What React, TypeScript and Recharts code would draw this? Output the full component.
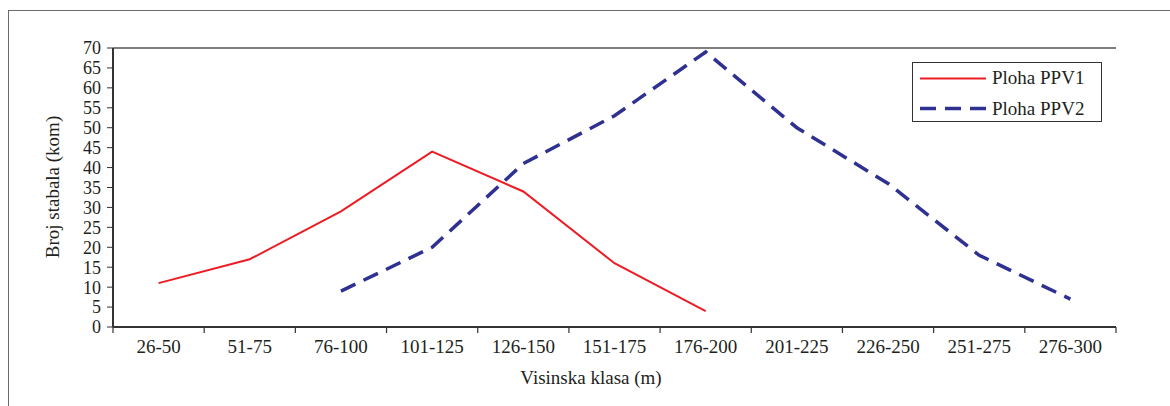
import { LineChart, Line, XAxis, YAxis, ReferenceLine, Legend } from 'recharts';

// height classes (m)
const categories = ['26-50', '51-75', '76-100', '101-125', '126-150', '151-175', '176-200', '201-225', '226-250', '251-275', '276-300'];
// number of trees per class
const ppv1 = [11, 17, 29, 44, 34, 16, 4, null, null, null, null];
const ppv2 = [null, null, 9, 20, 41, 53, 69, 50, 36, 18, 7];
const yTicks = [0, 5, 10, 15, 20, 25, 30, 35, 40, 45, 50, 55, 60, 65, 70];

const seriesNames = { ppv1: 'Ploha PPV1', ppv2: 'Ploha PPV2' };

const data = categories.map((c, i) => ({ x: i + 0.5, name: c, ppv1: ppv1[i], ppv2: ppv2[i] }));

// boundaries get a tick mark, centres get the class label
const xTicks: number[] = [];
for (let i = 0; i <= categories.length; i++) {
  xTicks.push(i);
  if (i < categories.length) xTicks.push(i + 0.5);
}

const FONT = '"Liberation Serif", "Times New Roman", serif';
const TEXT = '#231f20';
const RED = '#ed1c24';
const BLUE = '#2e3192';

const XTick = (props: any) => {
  const { x, y, payload } = props;
  const v = payload.value;
  if (Number.isInteger(v)) {
    return <line x1={x} x2={x} y1={y} y2={y + 6} stroke="#333" strokeWidth={1.2} />;
  }
  return (
    <text x={x} y={y + 26} textAnchor="middle" fontFamily={FONT} fontSize={19} fill={TEXT}>
      {categories[Math.floor(v)]}
    </text>
  );
};

const LegendBox = () => (
  <div
    style={{
      width: 190,
      height: 60,
      border: '1px solid #333',
      background: '#fff',
      boxSizing: 'border-box',
    }}
  >
    <svg width={190} height={60} style={{ display: 'block' }}>
      <line x1={7} x2={73} y1={15.5} y2={15.5} stroke={RED} strokeWidth={2} />
      <text x={79} y={21} fontFamily={FONT} fontSize={19} fill={TEXT}>{seriesNames.ppv1}</text>
      <line x1={7} x2={73} y1={45.5} y2={45.5} stroke={BLUE} strokeWidth={3.5} strokeDasharray="16 9" />
      <text x={79} y={52} fontFamily={FONT} fontSize={19} fill={TEXT}>{seriesNames.ppv2}</text>
    </svg>
  </div>
);

const App = () => {
  return (
    <div style={{ position: 'absolute', left: 0, top: 0, width: 1170, height: 406, overflow: 'hidden', background: '#fff' }}>
      {/* outer frame */}
      <div
        style={{
          position: 'absolute',
          left: 8,
          top: 10,
          width: 1170,
          height: 406,
          borderLeft: '1px solid #6a6a6a',
          borderTop: '1px solid #6a6a6a',
        }}
      />
      <div style={{ position: 'absolute', left: 0, top: 0 }}>
        <LineChart width={1170} height={406} data={data} margin={{ top: 48, right: 54, left: 0, bottom: 0 }}>
          <XAxis
            dataKey="x"
            type="number"
            domain={[0, categories.length]}
            ticks={xTicks}
            interval={0}
            tickSize={0}
            tickMargin={0}
            tickLine={false}
            tick={<XTick />}
            height={79}
            axisLine={{ stroke: '#333', strokeWidth: 2 }}
            label={{
              content: () => (
                <text x={591} y={384} textAnchor="middle" fontFamily={FONT} fontSize={19} fill={TEXT}>
                  Visinska klasa (m)
                </text>
              ),
            }}
          />
          <YAxis
            yAxisId="left"
            domain={[0, 70]}
            ticks={yTicks}
            interval={0}
            width={113}
            tickSize={6}
            tickMargin={6}
            tickLine={{ stroke: '#333' }}
            axisLine={{ stroke: '#333', strokeWidth: 2 }}
            tick={{ fontFamily: FONT, fontSize: 18, fill: TEXT }}
            label={{
              content: () => (
                <text
                  x={52}
                  y={187}
                  transform="rotate(-90 52 187)"
                  textAnchor="middle"
                  dominantBaseline="central"
                  fontFamily={FONT}
                  fontSize={19}
                  fill={TEXT}
                >
                  Broj stabala (kom)
                </text>
              ),
            }}
          />
          <YAxis
            yAxisId="right"
            orientation="right"
            domain={[0, 70]}
            width={0}
            tick={false}
            tickLine={false}
            axisLine={{ stroke: '#555', strokeWidth: 1.5 }}
          />
          <ReferenceLine yAxisId="left" y={70} stroke="#555" strokeWidth={1.5} />
          <Legend
            layout="vertical"
            align="center"
            verticalAlign="middle"
            content={<LegendBox />}
            wrapperStyle={{ position: 'absolute', left: 912, top: 62, width: 190, height: 60 }}
          />
          <Line
            yAxisId="left"
            type="linear"
            dataKey="ppv1"
            name={seriesNames.ppv1}
            stroke={RED}
            strokeWidth={2}
            dot={false}
            activeDot={false}
            isAnimationActive={false}
          />
          <Line
            yAxisId="left"
            type="linear"
            dataKey="ppv2"
            name={seriesNames.ppv2}
            stroke={BLUE}
            strokeWidth={3.5}
            strokeDasharray="16 9"
            dot={false}
            activeDot={false}
            isAnimationActive={false}
          />
        </LineChart>
      </div>
    </div>
  );
};

export default App;
